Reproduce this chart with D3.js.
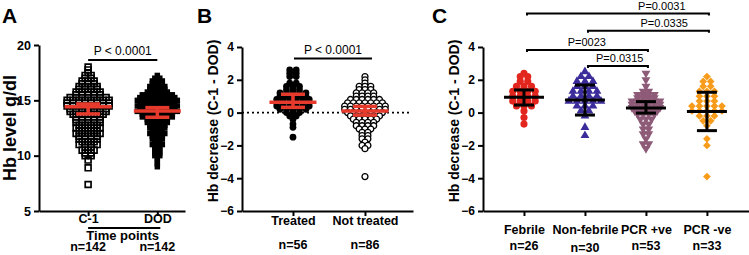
<!DOCTYPE html>
<html>
<head>
<meta charset="utf-8">
<script src="https://cdn.jsdelivr.net/npm/d3@7"></script>
<style>
  body { margin: 0; background: #fff; }
  svg text { font-family: "Liberation Sans", Arial, Helvetica, sans-serif; fill: #000; }
  .axis path, .axis line { stroke: #000; stroke-width: 2; }
  .axis text { font-weight: bold; font-size: 12px; }
  .xaxis text { font-size: 12.5px; }
</style>
</head>
<body>
<div id="chart"></div>
<script>
// ---- data: [value, number of points at that value] ----
const catsA = ["C-1", "DOD"];
const nA = ["n=142", "n=142"];
const c1Rows = [[18,1],[17.75,1],[17.5,1],[17.25,2],[17,2],[16.75,3],[16.5,3],[16.25,4],[16,4],[15.75,5],[15.5,5],[15.25,7],[15,8],[14.75,8],[14.5,8],[14.25,7],[14,7],[13.75,6],[13.5,5],[13.25,5],[13,5],[12.75,4],[12.5,5],[12.25,4],[12,5],[11.75,4],[11.5,4],[11.25,3],[11,4],[10.75,2],[10.5,3],[10.25,2],[10,2],[9.6,1],[8.9,1],[7.4,1]];
const dodRows = [[17.25,1],[17,2],[16.75,3],[16.5,3],[16.25,4],[16,4],[15.75,5],[15.5,7],[15.25,8],[15,9],[14.75,8],[14.5,9],[14.25,8],[14,9],[13.75,7],[13.5,7],[13.25,5],[13,5],[12.75,4],[12.5,4],[12.25,3],[12,4],[11.75,3],[11.5,3],[11.25,2],[11,3],[10.75,2],[10.5,2],[10.25,2],[10,2],[9.75,1],[9.5,1],[9.25,1],[9,1]];
const centerA = [14.43, 14.04];
const loA = [13.77, 13.47];
const hiA = [14.67, 14.34];
const ticksA = [5, 10, 15, 20];

const catsB = ["Treated", "Not treated"];
const nB = ["n=56", "n=86"];
const treatedRows = [[2.6,2],[2.4,2],[2.2,2],[1.8,2],[1.6,3],[1.4,3],[1.2,5],[1.0,5],[0.8,6],[0.6,6],[0.4,6],[0.2,5],[0,3],[-0.2,2],[-0.4,1],[-0.7,1],[-0.9,1],[-1.5,1]];
const notTreatedRows = [[2.2,1],[2.0,1],[1.8,1],[1.6,3],[1.4,3],[1.2,4],[1.0,4],[0.8,6],[0.6,7],[0.4,8],[0.2,8],[0,7],[-0.2,6],[-0.4,5],[-0.6,4],[-0.8,4],[-1.0,3],[-1.2,2],[-1.4,2],[-1.6,2],[-1.8,1],[-2.0,2],[-2.2,1],[-3.9,1]];
const centerB = [0.63, 0.1];
const loB = [0.32, -0.15];
const hiB = [1.12, 0.38];
const ticksDiff = [-6, -4, -2, 0, 2, 4];

const catsC = ["Febrile", "Non-febrile", "PCR +ve", "PCR -ve"];
const nC = ["n=26", "n=30", "n=53", "n=33"];
const febrileRows = [[2.4,1],[2.2,2],[1.9,2],[1.6,3],[1.3,4],[1.0,4],[0.7,4],[0.4,3],[0.1,1],[-0.3,1],[-0.7,1]];
const nonFebrileRows = [[2.5,1],[2.2,2],[1.9,3],[1.6,3],[1.3,4],[1.0,4],[0.7,5],[0.4,3],[0.1,2],[-0.2,1],[-0.9,1],[-1.4,1]];
const pcrPosRows = [[2.4,1],[2.0,1],[1.6,1],[1.3,2],[1.1,4],[0.9,4],[0.7,6],[0.5,6],[0.3,6],[0.1,5],[-0.1,4],[-0.4,3],[-0.7,2],[-1.0,2],[-1.3,2],[-1.6,1],[-1.9,2],[-2.2,1]];
const pcrNegRows = [[2.2,1],[1.9,2],[1.6,2],[1.3,3],[1.0,3],[0.7,3],[0.4,5],[0.1,5],[-0.2,3],[-0.5,2],[-0.8,1],[-1.6,1],[-2.0,1],[-3.9,1]];
const centerC = [0.93, 0.77, 0.28, 0.06];
const loC = [0.46, -0.15, -0.03, -1.1];
const hiC = [1.38, 1.68, 0.67, 1.24];

// comparisons: [from group, to group, label]
const compA = [[0, 1, "P < 0.0001"]];
const compB = [[0, 1, "P < 0.0001"]];
const compC = [[0, 3, "P=0.0031"], [1, 3, "P=0.0335"], [0, 2, "P=0023"], [1, 2, "P=0.0315"]];

const svg = d3.select("#chart").append("svg")
    .attr("width", 749)
    .attr("height", 255);

// simple row-based swarm: points with the same value are spread evenly round the centre
function swarm(rows, spacing) {
    let pts = [];
    rows.forEach(([v, n]) => {
        for (let i = 0; i < n; i++) pts.push({ v: v, dx: (i - (n - 1) / 2) * spacing });
    });
    return pts;
}

function panel(cfg) {
    let g = svg.append("g");

    let x = d3.scaleLinear().domain(cfg.xDomain).range(cfg.xRange);
    let y = d3.scaleLinear().domain(cfg.yDomain).range(cfg.yRange);

    g.append("g")
        .attr("class", "axis")
        .attr("transform", "translate(" + cfg.xRange[0] + ",0)")
        .call(d3.axisLeft(y).tickValues(cfg.ticks).tickSize(5).tickSizeOuter(0).tickPadding(3))
        .selectAll("text").style("font-size", cfg.tickSize || "12px");

    g.append("g")
        .attr("class", "axis xaxis")
        .attr("transform", "translate(0," + cfg.yRange[0] + ")")
        .call(d3.axisBottom(x).tickValues(d3.range(cfg.cats.length))
            .tickFormat(i => cfg.cats[i]).tickSize(5).tickSizeOuter(0).tickPadding(cfg.labelPad));

    // n= labels
    g.selectAll(".nlab").data(cfg.ns).enter().append("text")
        .attr("class", "nlab")
        .attr("x", (d, i) => x(i))
        .attr("y", (d, i) => cfg.nY + (cfg.nShift ? cfg.nShift[i] : 0))
        .attr("text-anchor", "middle")
        .style("font-weight", "bold")
        .style("font-size", "12.5px")
        .text(d => d);

    // y title
    g.append("text")
        .attr("transform", "translate(" + cfg.titleX + "," + cfg.titleY + ") rotate(-90)")
        .attr("text-anchor", "middle")
        .style("font-weight", "bold")
        .style("font-size", cfg.titleSize)
        .text(cfg.title);

    // panel letter
    g.append("text")
        .attr("x", cfg.letterX).attr("y", 23)
        .style("font-weight", "bold")
        .style("font-size", "21px")
        .text(cfg.letter);

    if (cfg.zeroLine) {
        g.append("line")
            .attr("x1", cfg.xRange[0]).attr("x2", cfg.xRange[1] - 3)
            .attr("y1", y(0)).attr("y2", y(0))
            .attr("stroke", "#000").attr("stroke-width", 1.6)
            .attr("stroke-dasharray", "2,3");
    }

    // grouping line + x title (panel A)
    if (cfg.xTitle) {
        g.append("line")
            .attr("x1", x(0)).attr("x2", x(1) + 3)
            .attr("y1", cfg.xTitleLineY).attr("y2", cfg.xTitleLineY)
            .attr("stroke", "#000").attr("stroke-width", 2);
        g.append("text")
            .attr("x", (x(0) + x(1)) / 2).attr("y", cfg.xTitleY)
            .attr("text-anchor", "middle")
            .style("font-weight", "bold")
            .style("font-size", "13px")
            .text(cfg.xTitle);
    }

    // points
    cfg.groups.forEach((grp, i) => {
        let pts = swarm(grp.rows, grp.spacing);
        g.append("g").selectAll("path").data(pts).enter().append("path")
            .attr("d", d3.symbol().type(grp.symbol).size(grp.size))
            .attr("transform", d => "translate(" + (x(i) + d.dx) + "," + y(d.v) + ") rotate(" + (grp.rotate || 0) + ")")
            .attr("fill", grp.fill)
            .attr("stroke", grp.stroke || "none")
            .attr("stroke-width", grp.strokeWidth || 0);
    });

    // centre line with error bars
    let eb = g.append("g").attr("stroke", cfg.barColor).attr("stroke-width", cfg.barWidth);
    cfg.center.forEach((c, i) => {
        let cx = x(i);
        eb.append("line").attr("x1", cx).attr("x2", cx).attr("y1", y(cfg.lo[i])).attr("y2", y(cfg.hi[i]));
        [cfg.lo[i], cfg.hi[i]].forEach(v => {
            eb.append("line").attr("x1", cx - cfg.capW / 2).attr("x2", cx + cfg.capW / 2)
                .attr("y1", y(v)).attr("y2", y(v));
        });
        eb.append("line").attr("x1", cx - cfg.meanW / 2).attr("x2", cx + cfg.meanW / 2)
            .attr("y1", y(c)).attr("y2", y(c));
    });

    // comparison brackets
    cfg.comps.forEach((c, k) => {
        let by = cfg.bracketY[k];
        let x1 = x(c[0]) + cfg.bracketInset[0], x2 = x(c[1]) + cfg.bracketInset[1];
        g.append("path")
            .attr("d", "M" + x1 + "," + (by + cfg.bracketTick) + "V" + by + "H" + x2 + "V" + (by + cfg.bracketTick))
            .attr("fill", "none").attr("stroke", "#000").attr("stroke-width", 2);
        g.append("text")
            .attr("x", cfg.labelX ? x(cfg.labelX[k]) : (x1 + x2) / 2)
            .attr("y", by - cfg.labelGap)
            .attr("text-anchor", "middle")
            .style("font-size", cfg.pSize)
            .text(c[2]);
    });

    return g;
}

panel({
    letter: "A", letterX: 2,
    cats: catsA, ns: nA, nY: 251,
    xDomain: [-0.71, 1.4], xRange: [39, 185],
    yDomain: [5, 20], yRange: [211, 45], ticks: ticksA, tickSize: "12.5px",
    labelPad: -2,
    xTitle: "Time points", xTitleY: 239.5, xTitleLineY: 228,
    title: "Hb level g/dl", titleX: 16, titleY: 128, titleSize: "18px",
    groups: [
        { rows: c1Rows, spacing: 6, symbol: d3.symbolSquare, size: 34, fill: "none", stroke: "#000", strokeWidth: 1.7 },
        { rows: dodRows, spacing: 5, symbol: d3.symbolSquare, size: 30, fill: "#000" }
    ],
    center: centerA, lo: loA, hi: hiA,
    barColor: "#e63a2c", barWidth: 3.5, capW: 24, meanW: 47,
    comps: compA, bracketY: [60], bracketInset: [0, 0], bracketTick: 0, labelGap: 5, pSize: "12px"
});

panel({
    letter: "B", letterX: 197,
    cats: catsB, ns: nB, nY: 249,
    xDomain: [-0.708, 1.667], xRange: [242, 413],
    yDomain: [-6, 4], yRange: [211, 47], ticks: ticksDiff,
    labelPad: 0, zeroLine: true,
    title: "Hb decrease (C-1 - DOD)", titleX: 218, titleY: 121, titleSize: "14px",
    groups: [
        { rows: treatedRows, spacing: 6.5, symbol: d3.symbolCircle, size: 36, fill: "#000" },
        { rows: notTreatedRows, spacing: 5.8, symbol: d3.symbolCircle, size: 28, fill: "#fff", stroke: "#000", strokeWidth: 1.3 }
    ],
    center: centerB, lo: loB, hi: hiB,
    barColor: "#e63a2c", barWidth: 3.5, capW: 24, meanW: 47,
    comps: compB, bracketY: [58.5], bracketInset: [1, 7], bracketTick: 0, labelGap: 5, pSize: "12px"
});

panel({
    letter: "C", letterX: 432,
    cats: catsC, ns: nC, nY: 250, nShift: [0, 2, 0, 0],
    xDomain: [-0.672, 3.69], xRange: [483, 749],
    yDomain: [-6, 4], yRange: [211, 47], ticks: ticksDiff,
    labelPad: 9,
    title: "Hb decrease (C-1 - DOD)", titleX: 459, titleY: 121, titleSize: "14px",
    groups: [
        { rows: febrileRows, spacing: 7.5, symbol: d3.symbolCircle, size: 40, fill: "#e3261d" },
        { rows: nonFebrileRows, spacing: 8, symbol: d3.symbolTriangle, size: 34, fill: "#3b2c9c" },
        { rows: pcrPosRows, spacing: 5.6, symbol: d3.symbolTriangle, size: 34, fill: "#8d5a77", rotate: 180 },
        { rows: pcrNegRows, spacing: 7.5, symbol: d3.symbolSquare, size: 30, fill: "#f79b1a", rotate: 45 }
    ],
    center: centerC, lo: loC, hi: hiC,
    barColor: "#000", barWidth: 3, capW: 20, meanW: 40,
    comps: compC, bracketY: [13.5, 30.7, 50, 66], bracketInset: [3, 2], bracketTick: 2,
    labelX: [2.26, 2.3, 1.03, 1.57], labelGap: 4, pSize: "11px"
});
</script>
</body>
</html>
